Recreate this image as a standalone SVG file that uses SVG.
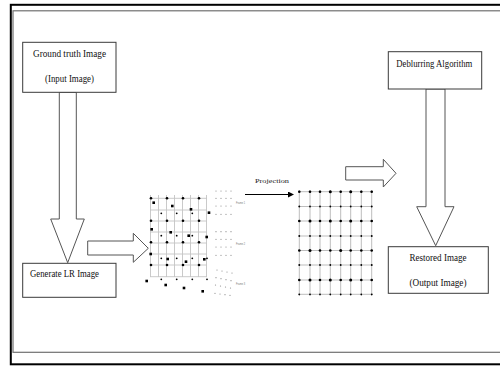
<svg xmlns="http://www.w3.org/2000/svg" width="500" height="367" viewBox="0 0 500 367">
<style>
.box{fill:#fff;stroke:#3a3a3a;stroke-width:1}
.arr{fill:#fff;stroke:#555;stroke-width:1;stroke-linejoin:miter}
.t{font-family:"Liberation Serif","Times New Roman",serif;font-size:9.4px;fill:#111}
.gl{stroke:#c4c4c4;stroke-width:0.9}
.gr{stroke:#bdbdbd;stroke-width:1}
.fr{font-family:"Liberation Sans",Arial,sans-serif;font-size:3px;fill:#777}
.fd{fill:#888}
</style>
<defs>
<marker id="ah" markerWidth="6" markerHeight="6" refX="5" refY="3" orient="auto" markerUnits="userSpaceOnUse">
<path d="M0,0 L6,3 L0,6 z" fill="#000"/>
</marker>
</defs>
<rect width="500" height="367" fill="#fff"/>
<rect x="10.8" y="4.8" width="500" height="359.5" fill="none" stroke="#000" stroke-width="2"/>
<rect x="13" y="10.8" width="500" height="341.5" fill="none" stroke="#707070" stroke-width="1.2"/>

<g id="connectors">
<polygon class="arr" points="59.3,92.3 76.3,92.3 76.3,219 84.3,219 67.7,262.7 50.7,219 59.3,219"/>
<polygon class="arr" points="87.7,241 133.3,241 133.3,233.3 148.3,248.3 133.3,262.3 133.3,255 87.7,255"/>
<polygon class="arr" points="426,89 445,89 445,206.7 454,206.7 435.7,245.7 416.7,206.7 426,206.7"/>
<polygon class="arr" points="345.7,166.7 383.3,166.7 383.3,159.3 396,173.3 383.3,187 383.3,180 345.7,180"/>
<line x1="245" y1="194.5" x2="293" y2="194.5" stroke="#000" stroke-width="1" marker-end="url(#ah)"/>
<text x="255" y="183" style="font-family:'Liberation Serif','Times New Roman',serif;font-size:6.5px;fill:#222" textLength="34" lengthAdjust="spacingAndGlyphs">Projection</text>
</g>

<g id="ground-truth">
<rect class="box" x="22.7" y="42.3" width="93.3" height="50"/>
<text class="t" x="69.5" y="56.5" text-anchor="middle" textLength="73" lengthAdjust="spacingAndGlyphs">Ground truth Image</text>
<text class="t" x="69.5" y="82" text-anchor="middle" textLength="49" lengthAdjust="spacingAndGlyphs">(Input Image)</text>
</g>

<g id="generate-lr">
<rect class="box" x="22.7" y="263.3" width="93.3" height="34"/>
<text class="t" x="30" y="277" textLength="69" lengthAdjust="spacingAndGlyphs">Generate LR Image</text>
</g>

<g id="deblurring">
<rect class="box" x="388.3" y="51.7" width="93.4" height="37.3"/>
<text class="t" x="434.3" y="66.5" text-anchor="middle" textLength="76" lengthAdjust="spacingAndGlyphs">Deblurring Algorithm</text>
</g>

<g id="restored">
<rect class="box" x="388.3" y="246.7" width="100" height="46.6"/>
<text class="t" x="438" y="261" text-anchor="middle" textLength="57" lengthAdjust="spacingAndGlyphs">Restored Image</text>
<text class="t" x="438" y="285.5" text-anchor="middle" textLength="57" lengthAdjust="spacingAndGlyphs">(Output Image)</text>
</g>

<g id="lr-frames">
<g class="gl">
<line x1="150.5" y1="195" x2="150.5" y2="277"/><line x1="158.5" y1="195" x2="158.5" y2="277"/>
<line x1="166.5" y1="195" x2="166.5" y2="277"/><line x1="174.5" y1="195" x2="174.5" y2="277"/>
<line x1="182.5" y1="195" x2="182.5" y2="277"/><line x1="190.5" y1="195" x2="190.5" y2="277"/>
<line x1="198.5" y1="195" x2="198.5" y2="277"/><line x1="206.5" y1="195" x2="206.5" y2="277"/>
<line x1="150" y1="198.3" x2="207" y2="198.3"/><line x1="150" y1="210" x2="207" y2="210"/>
<line x1="150" y1="221" x2="207" y2="221"/><line x1="150" y1="232" x2="207" y2="232"/>
<line x1="150" y1="243" x2="207" y2="243"/><line x1="150" y1="254" x2="207" y2="254"/>
<line x1="150" y1="265" x2="207" y2="265"/><line x1="150" y1="276.7" x2="207" y2="276.7"/>
</g>
<g fill="#000">
<circle cx="151" cy="198.3" r="1.3"/><circle cx="167" cy="198.3" r="1.3"/><circle cx="183" cy="198.3" r="1.3"/><circle cx="199" cy="198.3" r="1.3"/>
<circle cx="151" cy="220.7" r="1.3"/><circle cx="167" cy="220.7" r="1.3"/><circle cx="183" cy="220.7" r="1.3"/><circle cx="199" cy="220.7" r="1.3"/>
<circle cx="151" cy="242.3" r="1.3"/><circle cx="167" cy="242.3" r="1.3"/><circle cx="183" cy="242.3" r="1.3"/><circle cx="199" cy="242.3" r="1.3"/>
<circle cx="151" cy="265" r="1.3"/><circle cx="167" cy="265" r="1.3"/><circle cx="183" cy="265" r="1.3"/><circle cx="199" cy="265" r="1.3"/>
<circle cx="161.3" cy="213.3" r="0.9"/><circle cx="176.7" cy="213.3" r="0.9"/><circle cx="192.3" cy="213.3" r="0.9"/>
<circle cx="161.3" cy="235.7" r="0.9"/><circle cx="176.7" cy="235.7" r="0.9"/><circle cx="192.3" cy="235.7" r="0.9"/>
<circle cx="161.3" cy="258.3" r="0.9"/><circle cx="176.7" cy="258.3" r="0.9"/><circle cx="192.3" cy="258.3" r="0.9"/><circle cx="207" cy="258.3" r="0.9"/>
<circle cx="161.3" cy="279.3" r="0.9"/><circle cx="176.7" cy="279.3" r="0.9"/><circle cx="192.3" cy="279.3" r="0.9"/><circle cx="207" cy="279.3" r="0.9"/>
<rect x="152.4" y="201.4" width="2.6" height="2.6"/><rect x="171" y="204.7" width="2.6" height="2.6"/>
<rect x="189.7" y="208" width="2.6" height="2.6"/><rect x="207.7" y="211.4" width="2.6" height="2.6"/>
<rect x="150.4" y="228" width="2.6" height="2.6"/><rect x="169.4" y="231" width="2.6" height="2.6"/>
<rect x="187.4" y="234.4" width="2.6" height="2.6"/><rect x="205.4" y="235.7" width="2.6" height="2.6"/>
<rect x="149.4" y="252.7" width="2.6" height="2.6"/><rect x="166.4" y="257.7" width="2.6" height="2.6"/>
<rect x="184.7" y="260.4" width="2.6" height="2.6"/><rect x="203" y="258" width="2.6" height="2.6"/>
<rect x="145.4" y="279.7" width="2.6" height="2.6"/><rect x="164.4" y="283.7" width="2.6" height="2.6"/>
<rect x="182.7" y="286.7" width="2.6" height="2.6"/><rect x="201.4" y="290" width="2.6" height="2.6"/>
</g>
<g class="fd">
<circle cx="216" cy="191" r="0.6"/><circle cx="221" cy="191" r="0.6"/><circle cx="226" cy="191" r="0.6"/><circle cx="231" cy="191" r="0.6"/>
<circle cx="216" cy="198.3" r="0.6"/><circle cx="221" cy="198.3" r="0.6"/><circle cx="226" cy="198.3" r="0.6"/><circle cx="231" cy="198.3" r="0.6"/>
<circle cx="216" cy="206" r="0.6"/><circle cx="221" cy="206" r="0.6"/><circle cx="226" cy="206" r="0.6"/><circle cx="231" cy="206" r="0.6"/>
<circle cx="216" cy="214.3" r="0.6"/><circle cx="221" cy="214.3" r="0.6"/><circle cx="226" cy="214.3" r="0.6"/><circle cx="231" cy="214.3" r="0.6"/>
<circle cx="216" cy="231.7" r="0.6"/><circle cx="221" cy="231.7" r="0.6"/><circle cx="226" cy="231.7" r="0.6"/><circle cx="231" cy="231.7" r="0.6"/>
<circle cx="216" cy="239.3" r="0.6"/><circle cx="221" cy="239.3" r="0.6"/><circle cx="226" cy="239.3" r="0.6"/><circle cx="231" cy="239.3" r="0.6"/>
<circle cx="216" cy="247" r="0.6"/><circle cx="221" cy="247" r="0.6"/><circle cx="226" cy="247" r="0.6"/><circle cx="231" cy="247" r="0.6"/>
<circle cx="216" cy="255.3" r="0.6"/><circle cx="221" cy="255.3" r="0.6"/><circle cx="226" cy="255.3" r="0.6"/><circle cx="231" cy="255.3" r="0.6"/>
<circle cx="217" cy="270" r="0.6"/><circle cx="222" cy="271" r="0.6"/><circle cx="227" cy="272" r="0.6"/><circle cx="232" cy="273" r="0.6"/>
<circle cx="216" cy="277.7" r="0.6"/><circle cx="221" cy="278.7" r="0.6"/><circle cx="226" cy="279.7" r="0.6"/><circle cx="231" cy="280.7" r="0.6"/>
<circle cx="215.5" cy="285" r="0.6"/><circle cx="220.5" cy="286" r="0.6"/><circle cx="225.5" cy="287" r="0.6"/><circle cx="230.5" cy="288" r="0.6"/>
<circle cx="215" cy="293.3" r="0.6"/><circle cx="220" cy="294" r="0.6"/><circle cx="225" cy="294.7" r="0.6"/><circle cx="230" cy="295.3" r="0.6"/>
</g>
<text class="fr" x="236" y="204" textLength="9" lengthAdjust="spacingAndGlyphs">Frame 1</text>
<text class="fr" x="236" y="245" textLength="9" lengthAdjust="spacingAndGlyphs">Frame 2</text>
<text class="fr" x="236" y="285" textLength="9" lengthAdjust="spacingAndGlyphs">Frame 3</text>
</g>

<g id="hr-grid">
<g class="gr">
<line x1="299.3" y1="190" x2="299.3" y2="296"/><line x1="310" y1="190" x2="310" y2="296"/>
<line x1="320" y1="190" x2="320" y2="296"/><line x1="330.3" y1="190" x2="330.3" y2="296"/>
<line x1="340.7" y1="190" x2="340.7" y2="296"/><line x1="350.7" y1="190" x2="350.7" y2="296"/>
<line x1="361.3" y1="190" x2="361.3" y2="296"/><line x1="371.7" y1="190" x2="371.7" y2="296"/>
<line x1="298" y1="191.7" x2="373" y2="191.7"/><line x1="298" y1="206.5" x2="373" y2="206.5"/>
<line x1="298" y1="221" x2="373" y2="221"/><line x1="298" y1="236" x2="373" y2="236"/>
<line x1="298" y1="250.5" x2="373" y2="250.5"/><line x1="298" y1="265" x2="373" y2="265"/>
<line x1="298" y1="280" x2="373" y2="280"/><line x1="298" y1="294.3" x2="373" y2="294.3"/>
</g>
<g fill="#000">
<circle cx="299.3" cy="191.7" r="1.3"/><circle cx="310" cy="191.7" r="1.3"/><circle cx="320" cy="191.7" r="1.3"/><circle cx="330.3" cy="191.7" r="1.5"/><circle cx="340.7" cy="191.7" r="1.3"/><circle cx="350.7" cy="191.7" r="1.5"/><circle cx="361.3" cy="191.7" r="1.3"/><circle cx="371.7" cy="191.7" r="1.3"/>
<circle cx="299.3" cy="206.5" r="0.9"/><circle cx="310" cy="206.5" r="0.9"/><circle cx="320" cy="206.5" r="0.9"/><circle cx="330.3" cy="206.5" r="0.9"/><circle cx="340.7" cy="206.5" r="0.9"/><circle cx="350.7" cy="206.5" r="0.9"/><circle cx="361.3" cy="206.5" r="0.9"/><circle cx="371.7" cy="206.5" r="0.9"/>
<circle cx="299.3" cy="221" r="1.3"/><circle cx="310" cy="221" r="1.5"/><circle cx="320" cy="221" r="1.3"/><circle cx="330.3" cy="221" r="1.5"/><circle cx="340.7" cy="221" r="1.3"/><circle cx="350.7" cy="221" r="1.5"/><circle cx="361.3" cy="221" r="1.3"/><circle cx="371.7" cy="221" r="1.3"/>
<circle cx="299.3" cy="236" r="0.9"/><circle cx="310" cy="236" r="0.9"/><circle cx="320" cy="236" r="0.9"/><circle cx="330.3" cy="236" r="0.9"/><circle cx="340.7" cy="236" r="0.9"/><circle cx="350.7" cy="236" r="0.9"/><circle cx="361.3" cy="236" r="0.9"/><circle cx="371.7" cy="236" r="0.9"/>
<circle cx="299.3" cy="250.5" r="1.3"/><circle cx="310" cy="250.5" r="1.5"/><circle cx="320" cy="250.5" r="1.3"/><circle cx="330.3" cy="250.5" r="1.3"/><circle cx="340.7" cy="250.5" r="1.5"/><circle cx="350.7" cy="250.5" r="1.3"/><circle cx="361.3" cy="250.5" r="1.3"/><circle cx="371.7" cy="250.5" r="1.3"/>
<circle cx="299.3" cy="265" r="0.9"/><circle cx="310" cy="265" r="0.9"/><circle cx="320" cy="265" r="0.9"/><circle cx="330.3" cy="265" r="0.9"/><circle cx="340.7" cy="265" r="0.9"/><circle cx="350.7" cy="265" r="0.9"/><circle cx="361.3" cy="265" r="0.9"/><circle cx="371.7" cy="265" r="0.9"/>
<circle cx="299.3" cy="280" r="1.3"/><circle cx="310" cy="280" r="1.5"/><circle cx="320" cy="280" r="1.3"/><circle cx="330.3" cy="280" r="1.5"/><circle cx="340.7" cy="280" r="1.3"/><circle cx="350.7" cy="280" r="1.5"/><circle cx="361.3" cy="280" r="1.3"/><circle cx="371.7" cy="280" r="1.3"/>
<circle cx="299.3" cy="294.3" r="0.9"/><circle cx="310" cy="294.3" r="0.9"/><circle cx="320" cy="294.3" r="0.9"/><circle cx="330.3" cy="294.3" r="0.9"/><circle cx="340.7" cy="294.3" r="0.9"/><circle cx="350.7" cy="294.3" r="0.9"/><circle cx="361.3" cy="294.3" r="0.9"/><circle cx="371.7" cy="294.3" r="0.9"/>
</g>
</g>
</svg>
